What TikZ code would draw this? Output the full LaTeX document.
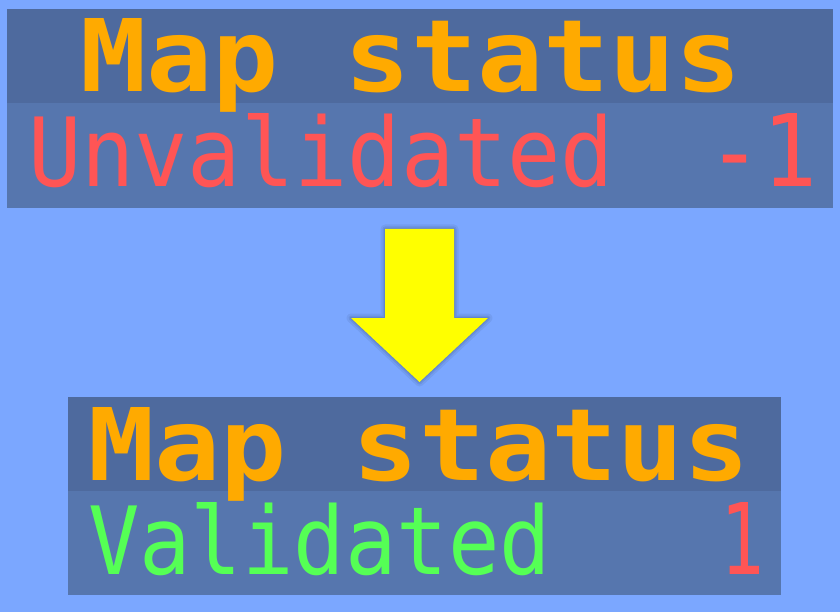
\documentclass[tikz,border=0pt]{standalone}
\usepackage{fontspec}
\usepackage{graphicx}
\newfontfamily\pixfont{DejaVu Sans Mono}
\definecolor{bgblue}{HTML}{7BA7FF}
\definecolor{headblue}{HTML}{4E6A9E}
\definecolor{bodyblue}{HTML}{5676AE}
\definecolor{txtorange}{HTML}{FFAA00}
\definecolor{txtred}{HTML}{FF5555}
\definecolor{txtgreen}{HTML}{55FF55}
\definecolor{arrowyellow}{HTML}{FFFF00}
\begin{document}
\begin{tikzpicture}[x=1pt,y=-1pt,
  txt/.style={anchor=base west, inner sep=0pt, outer sep=0pt},
  headfill/.style={fill=headblue},
  bodyfill/.style={fill=bodyblue},
  glow/.style={draw=black, line join=round, opacity=#1}]
\fill[bgblue] (0,0) rectangle (840,612);
\useasboundingbox (0,0) rectangle (840,612);
% top panel
\fill[headfill] (7,9) rectangle (833,103);
\fill[bodyfill] (7,103) rectangle (833,208);
\node[txt, text=txtorange] (title1) at (80,92) {\resizebox{662pt}{73pt}{\pixfont\bfseries Map status}};
\node[txt, text=txtred] (status1) at (28,187) {\resizebox{586pt}{73pt}{\pixfont Unvalidated}};
\node[txt, text=txtred] (value1) at (707,187) {\resizebox{110pt}{73pt}{\pixfont -1}};
% arrow
\path[preaction={glow=0.06, line width=9pt}, preaction={glow=0.07, line width=5pt}, preaction={glow=0.08, line width=2pt}, fill=arrowyellow]
  (385,229) -- (454,229) -- (454,318) -- (488,318) -- (419.5,382) -- (351,318) -- (385,318) -- cycle;
% bottom panel
\fill[headfill] (68,397) rectangle (781,491);
\fill[bodyfill] (68,491) rectangle (781,595);
\node[txt, text=txtorange] (title2) at (88,480) {\resizebox{662pt}{73pt}{\pixfont\bfseries Map status}};
\node[txt, text=txtgreen] (status2) at (88,574) {\resizebox{463pt}{72pt}{\pixfont Validated}};
\node[txt, text=txtred] (value2) at (720,574) {\resizebox{44pt}{72pt}{\pixfont 1}};
\end{tikzpicture}
\end{document}
